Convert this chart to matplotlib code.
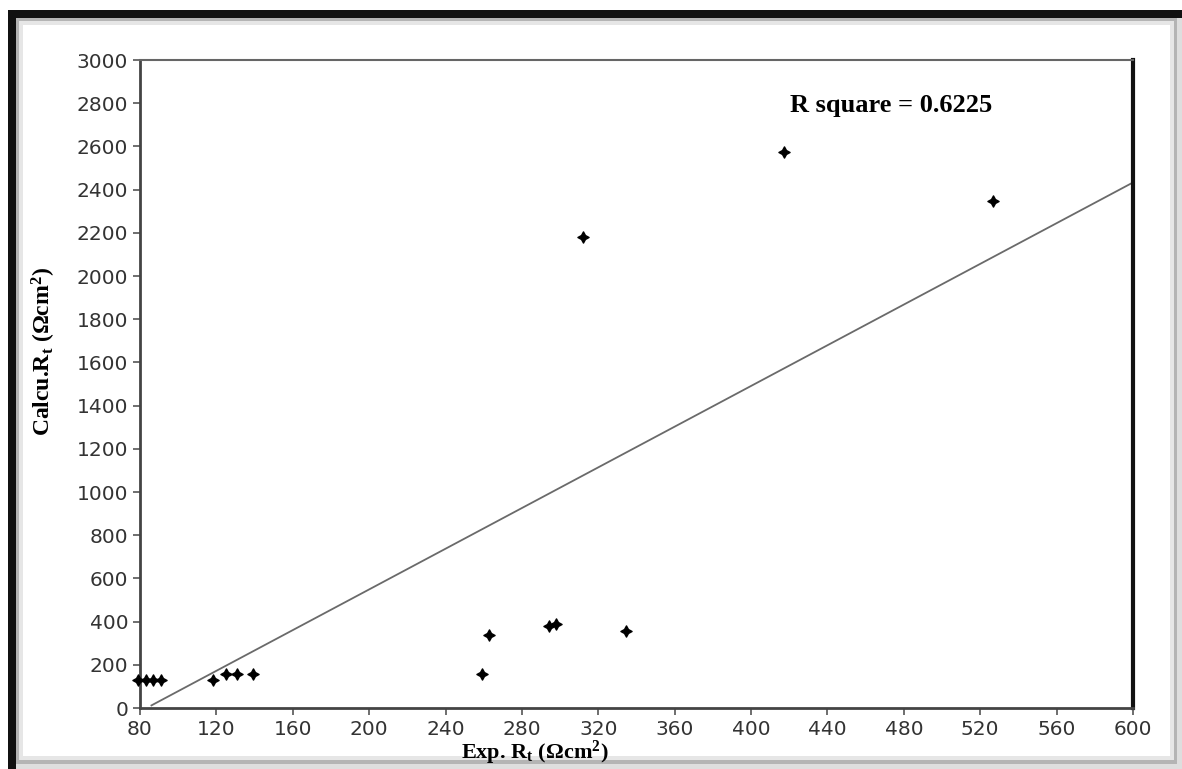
import numpy as np
import matplotlib
matplotlib.use("Agg")
import matplotlib.pyplot as plt
from matplotlib.patches import Rectangle

# values
exp_rt = [79, 83, 87, 91, 118, 125, 131, 139, 259, 263, 294, 298, 312, 334.5, 417, 526.6]
calc_rt = [130, 130, 130, 130, 130, 157, 157, 157, 157, 338, 380, 389, 2180, 357, 2574, 2347]

# fitted line as drawn in the picture
fit_slope = 4.71
fit_intercept = -393
fit_x_start = 86
fit_x_end = 600
r_square = 0.6225

x_ticks = list(range(80, 601, 40))
y_ticks = list(range(0, 3001, 200))

plt.rcParams['mathtext.fontset'] = 'custom'
plt.rcParams['mathtext.rm'] = 'Liberation Serif:bold'
plt.rcParams['mathtext.it'] = 'Liberation Serif:bold'

W, H = 1182, 769
fig = plt.figure(figsize=(W / 100, H / 100), dpi=100)


def box(x0, y0, x1, y1, color):
    # image pixel coords (origin top-left) -> figure fraction
    r = Rectangle((x0 / W, 1 - y1 / H), (x1 - x0) / W, (y1 - y0) / H,
                  transform=fig.transFigure, facecolor=color, edgecolor='none', zorder=-10)
    fig.add_artist(r)


# photo-like frame round the chart
box(8, 10, 1182, 769, '#dedede')
box(8, 10, 1182, 18, '#111111')
box(8, 10, 16, 769, '#111111')
box(16, 18, 1177, 764, '#b4b4b4')
box(19, 21, 1174, 760, '#e6e6e6')
box(23, 25, 1170, 756, 'white')

ax = fig.add_axes([140 / W, 1 - 708 / H, (1133 - 140) / W, (708 - 60) / H])

ax.scatter(exp_rt, calc_rt, marker=(4, 1, 0), s=65, color='black', zorder=3, clip_on=False)

fx = np.array([fit_x_start, fit_x_end])
ax.plot(fx, fit_slope * fx + fit_intercept, color='#6a6a6a', lw=1.3, zorder=2)

ax.set_xlim(80, 600)
ax.set_ylim(0, 3000)
ax.set_xticks(x_ticks)
ax.set_yticks(y_ticks)
ax.tick_params(axis='both', labelsize=14.5, labelcolor='#333333', color='#555555',
               length=5, width=1.2)
for lab in ax.get_xticklabels() + ax.get_yticklabels():
    lab.set_family('DejaVu Sans')

ax.spines['left'].set_color('#444444')
ax.spines['left'].set_linewidth(2)
ax.spines['bottom'].set_color('#444444')
ax.spines['bottom'].set_linewidth(2)
ax.spines['top'].set_color('#666666')
ax.spines['top'].set_linewidth(1.5)
ax.spines['right'].set_color('#111111')
ax.spines['right'].set_linewidth(3)

ax.set_xlabel('Exp. R$_\\mathrm{t}$ (Ωcm$^\\mathrm{2}$)', family='Liberation Serif',
              weight='bold', fontsize=16, labelpad=2)
ax.xaxis.set_label_coords(0.398, -0.047)
ax.set_ylabel('Calcu.R$_\\mathrm{t}$ (Ωcm$^\\mathrm{2}$)', family='Liberation Serif',
              weight='bold', fontsize=17)
ax.yaxis.set_label_coords(-0.083, 0.55)

ax.text(0.655, 0.93, f'R square = {r_square}', transform=ax.transAxes,
        family='Liberation Serif', weight='bold', fontsize=19, va='center')

fig.savefig('out.png', dpi=100)
